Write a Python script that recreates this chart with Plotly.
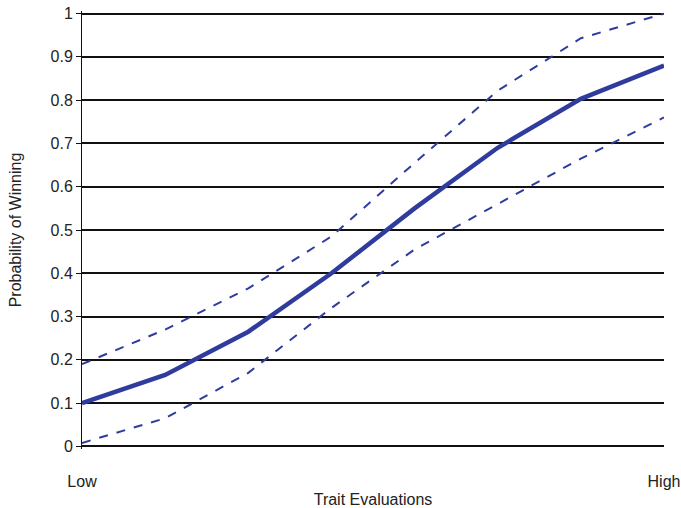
import plotly.graph_objects as go

x_pos = [0, 1, 2, 3, 4, 5, 6, 7]
prob_mean = [0.10, 0.165, 0.265, 0.40, 0.55, 0.69, 0.803, 0.88]
prob_upper = [0.19, 0.27, 0.365, 0.485, 0.655, 0.822, 0.943, 1.0]
prob_lower = [0.008, 0.065, 0.17, 0.32, 0.455, 0.56, 0.665, 0.76]
x_ticks = [0, 7]
x_labels = ["Low", "High"]
y_ticks = [0, 0.1, 0.2, 0.3, 0.4, 0.5, 0.6, 0.7, 0.8, 0.9, 1]
y_labels = ["0", "0.1", "0.2", "0.3", "0.4", "0.5", "0.6", "0.7", "0.8", "0.9", "1"]

color = "#2f3c9e"
fig = go.Figure()
fig.add_trace(go.Scatter(x=x_pos, y=prob_upper, mode="lines",
                         line=dict(color=color, width=2, dash="dash"), cliponaxis=False))
fig.add_trace(go.Scatter(x=x_pos, y=prob_lower, mode="lines",
                         line=dict(color=color, width=2, dash="dash"), cliponaxis=False))
fig.add_trace(go.Scatter(x=x_pos, y=prob_mean, mode="lines",
                         line=dict(color=color, width=4.5), cliponaxis=False))

fig.update_layout(
    width=681, height=508,
    margin=dict(l=82, r=17, t=11, b=59),
    paper_bgcolor="white", plot_bgcolor="white",
    showlegend=False,
    font=dict(family="Liberation Sans, Arial, sans-serif", size=16, color="#222222"),
    xaxis=dict(range=[0, 7], tickvals=x_ticks, ticktext=x_labels,
               showgrid=False, zeroline=False, showline=False, ticks="",
               ticklabelstandoff=21, automargin=False, ticklabeloverflow="allow",
               title=dict(text="Trait Evaluations", font=dict(size=16), standoff=4)),
    yaxis=dict(range=[-0.006, 1.006], tickvals=y_ticks, ticktext=y_labels,
               showgrid=True, gridcolor="#111111", gridwidth=1.5,
               zeroline=False, showline=True, linecolor="#111111", linewidth=1,
               ticks="outside", ticklen=5, tickcolor="#111111", automargin=False,
               ticklabeloverflow="allow",
               title=dict(text="Probability of Winning", font=dict(size=16), standoff=24)),
)
fig.write_html("out.html", config={"displayModeBar": False},
               post_script="document.body.style.margin='0px';document.body.style.padding='0px';")
